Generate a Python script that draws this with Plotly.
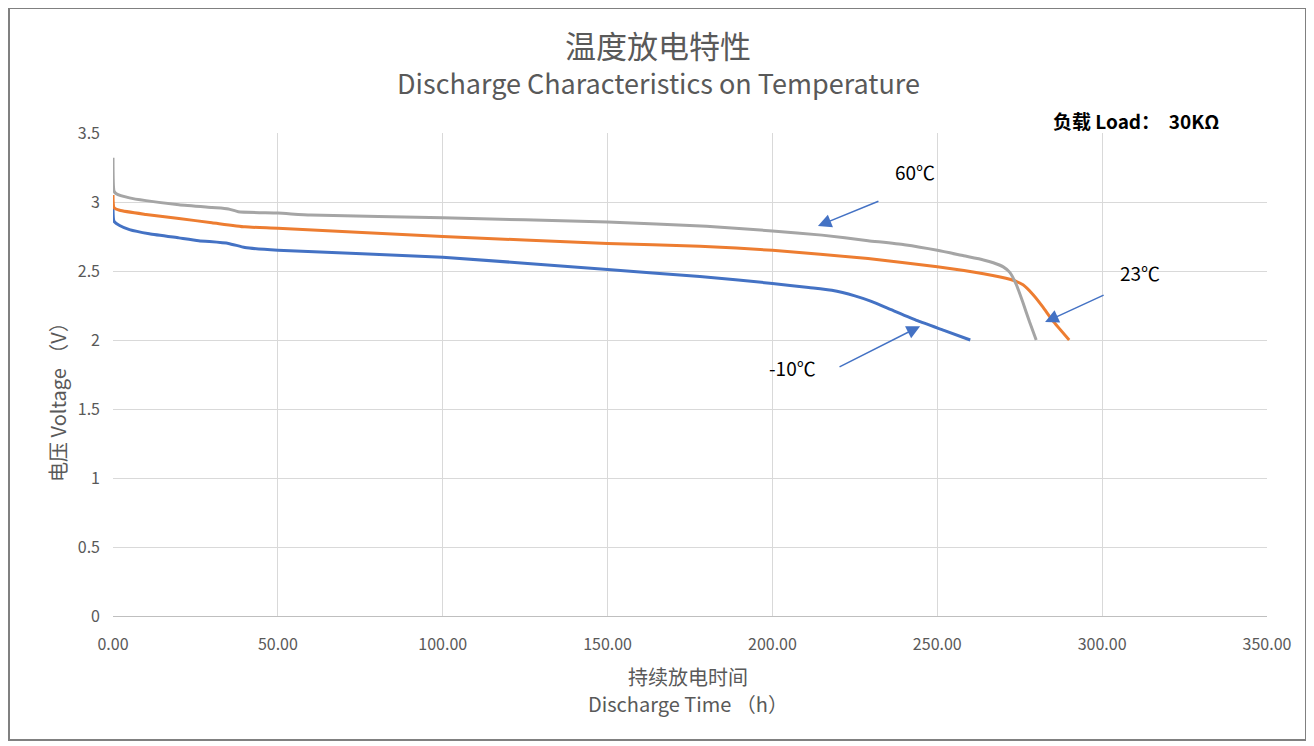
import plotly.graph_objects as go

# 60℃ (gray)
t_60 = [0, 0.3, 1, 5, 10, 20, 30, 35, 38, 50, 60, 100, 150, 180, 200, 215, 229, 240, 250, 258, 264, 267, 270, 272, 274, 276, 278, 280]
v_60 = [3.32, 3.08, 3.06, 3.03, 3.01, 2.98, 2.96, 2.95, 2.93, 2.92, 2.905, 2.885, 2.855, 2.825, 2.79, 2.76, 2.72, 2.69, 2.65, 2.61, 2.58, 2.56, 2.53, 2.49, 2.40, 2.27, 2.13, 2.0]
# 23℃ (orange)
t_23 = [0, 0.3, 2, 10, 20, 30, 40, 50, 100, 150, 178, 200, 229, 250, 264, 272, 276, 279, 282, 285, 290]
v_23 = [3.05, 2.96, 2.94, 2.91, 2.88, 2.85, 2.82, 2.81, 2.75, 2.70, 2.68, 2.65, 2.59, 2.53, 2.48, 2.44, 2.40, 2.33, 2.24, 2.14, 2.0]
# -10℃ (blue)
t_m10 = [0, 0.3, 2, 5, 11, 20, 26, 35, 40, 50, 100, 150, 178, 200, 211, 218, 225, 230, 236, 244, 252, 260]
v_m10 = [2.96, 2.86, 2.83, 2.80, 2.77, 2.74, 2.72, 2.70, 2.67, 2.65, 2.60, 2.51, 2.46, 2.41, 2.38, 2.36, 2.32, 2.28, 2.22, 2.14, 2.07, 2.0]

x_ticks = [0, 50, 100, 150, 200, 250, 300, 350]
y_ticks = [0, 0.5, 1, 1.5, 2, 2.5, 3, 3.5]

FONT = "Noto Sans CJK SC, Open Sans, sans-serif"
GRAY_TXT = "#595959"

fig = go.Figure()
fig.add_trace(go.Scatter(x=t_m10, y=v_m10, mode="lines", line=dict(color="#4472C4", width=3, shape="spline", smoothing=0.5), name="-10℃"))
fig.add_trace(go.Scatter(x=t_23, y=v_23, mode="lines", line=dict(color="#ED7D31", width=3, shape="spline", smoothing=0.5), name="23℃"))
fig.add_trace(go.Scatter(x=t_60, y=v_60, mode="lines", line=dict(color="#A5A5A5", width=3, shape="spline", smoothing=0.5), name="60℃"))

arrow_color = "#4472C4"
def arrow(hx, hy, tx, ty):
    fig.add_annotation(x=hx, y=hy, ax=tx, ay=ty, xref="x", yref="y", axref="x", ayref="y",
                       showarrow=True, arrowhead=2, arrowsize=1.8, arrowwidth=1.5,
                       arrowcolor=arrow_color, text="")

arrow(213.8, 2.826, 232.6, 3.01)
arrow(282.7, 2.13, 300.9, 2.33)
arrow(244.8, 2.10, 219.9, 1.80)

for txt, x, y in [("60℃", 243.2, 3.22), ("23℃", 311.5, 2.49), ("-10℃", 206.2, 1.80)]:
    fig.add_annotation(x=x, y=y, xref="x", yref="y", text=txt, showarrow=False,
                       xanchor="center", yanchor="middle",
                       font=dict(family=FONT, size=19, color="#000000"))

def ptext(text, px, py, size, color=GRAY_TXT, angle=0):
    fig.add_annotation(x=(px - 113) / 1154, y=(616 - py) / 483, xref="paper", yref="paper",
                       text=text, showarrow=False, xanchor="center", yanchor="middle",
                       textangle=angle, font=dict(family=FONT, size=size, color=color))

ptext("<b>负载 Load：  30KΩ</b>", 1136, 121, 19, color="#000000")
ptext("温度放电特性", 658, 45, 31)
ptext("Discharge Characteristics on Temperature", 658, 83, 27)
ptext("持续放电时间", 688, 676, 20)
ptext("Discharge Time （h）", 688, 703, 20)
ptext("电压 Voltage （V）", 58, 397, 20, angle=-90)

fig.add_shape(type="rect", xref="paper", yref="paper",
              x0=(9 - 113) / 1154, x1=(1306 - 113) / 1154,
              y0=(616 - 740) / 483, y1=(616 - 8) / 483,
              line=dict(color="#808080", width=2))

fig.update_xaxes(range=[0, 350], tickvals=x_ticks, tickformat=".2f",
                 showgrid=True, gridcolor="#D9D9D9", gridwidth=1,
                 showline=True, linecolor="#BFBFBF", zeroline=False,
                 ticklabelstandoff=14,
                 tickfont=dict(family=FONT, size=16, color=GRAY_TXT), ticks="")
fig.update_yaxes(range=[0, 3.5], tickvals=y_ticks,
                 showgrid=True, gridcolor="#D9D9D9", gridwidth=1,
                 zeroline=False, showline=False,
                 ticklabelstandoff=12,
                 tickfont=dict(family=FONT, size=16, color=GRAY_TXT), ticks="")

# page body adds an 8px offset; compensate so plot area lands at the reference pixels
fig.update_layout(width=1306, height=738, showlegend=False,
                  margin=dict(l=105, r=47, t=125, b=130),
                  plot_bgcolor="white", paper_bgcolor="white")

fig.write_html("out.html")
